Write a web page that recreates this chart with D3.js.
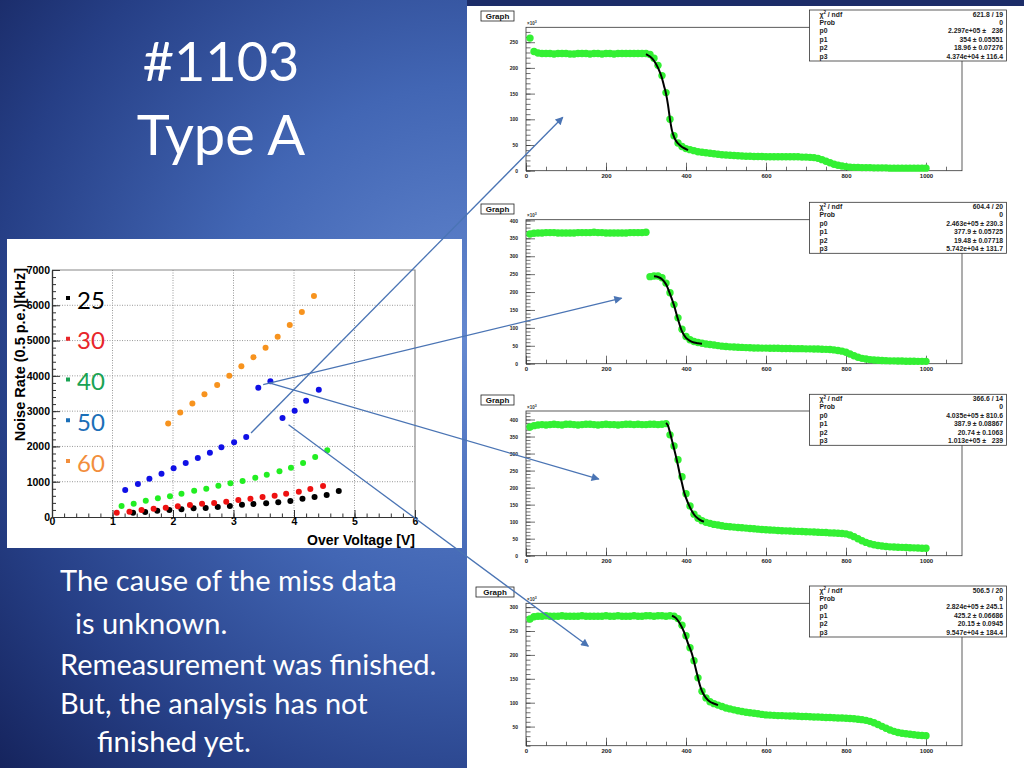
<!DOCTYPE html>
<html>
<head>
<meta charset="utf-8">
<title>#1103 Type A</title>
<script src="https://cdn.jsdelivr.net/npm/d3@7/dist/d3.min.js"></script>
<style>
  html, body { margin: 0; padding: 0; overflow: hidden; background: #1b2b66; }
  svg { display: block; }
  .root text { font-family: "Liberation Sans", Arial, sans-serif; font-weight: bold; }
</style>
</head>
<body>
<svg id="slide" width="1024" height="768"></svg>
<script>
// slide text
const titleLines = ["#1103", "Type A"];
const noteLines = [
    "The cause of the miss data",
    "is unknown.",
    "Remeasurement was finished.",
    "But, the analysis has not",
    "finished yet."
];

// left chart: noise rate vs over voltage
const seriesLabels = ["25", "30", "40", "50", "60"];
const voltTicks = [0, 1, 2, 3, 4, 5, 6];
const rateTicks = [0, 1000, 2000, 3000, 4000, 5000, 6000, 7000];

const vov25 = [1.34, 1.54, 1.74, 1.94, 2.14, 2.34, 2.54, 2.74, 2.94, 3.14, 3.33, 3.54, 3.74, 3.94, 4.14, 4.34, 4.54, 4.74];
const rate25 = [122, 142, 180, 198, 217, 246, 255, 283, 312, 350, 368, 387, 415, 453, 519, 566, 623, 736];
const vov30 = [1.07, 1.28, 1.48, 1.68, 1.88, 2.08, 2.28, 2.48, 2.68, 2.88, 3.08, 3.28, 3.48, 3.68, 3.87, 4.08, 4.27, 4.48];
const rate30 = [122, 150, 198, 236, 264, 302, 340, 377, 396, 434, 481, 519, 566, 604, 660, 717, 793, 878];
const vov40 = [1.15, 1.35, 1.55, 1.75, 1.95, 2.14, 2.35, 2.55, 2.75, 2.95, 3.15, 3.36, 3.55, 3.76, 3.95, 4.15, 4.35, 4.55];
const rate40 = [312, 377, 462, 530, 586, 660, 745, 802, 887, 955, 1020, 1113, 1200, 1295, 1397, 1530, 1700, 1890];
const vov50 = [1.21, 1.42, 1.61, 1.81, 2.01, 2.21, 2.41, 2.61, 2.80, 3.01, 3.21, 3.41, 3.61, 3.81, 4.01, 4.20, 4.41];
const rate50 = [765, 935, 1085, 1227, 1380, 1530, 1671, 1822, 1974, 2116, 2266, 3663, 3844, 2805, 3011, 3295, 3606];
const vov60 = [1.92, 2.12, 2.32, 2.52, 2.73, 2.93, 3.13, 3.33, 3.53, 3.73, 3.93, 4.13, 4.33];
const rate60 = [2650, 2960, 3220, 3480, 3740, 4000, 4270, 4530, 4800, 5110, 5440, 5810, 6260];

// right side: four threshold scans (x = 10..1000, step 10), y in 10^3
const scanX = d3.range(10, 1001, 10);
const scanTicks = [0, 200, 400, 600, 800, 1000];

const scan1 = [
    258, 232, 229, 228, 228, 228, 227, 228, 228, 228,
    227, 227, 228, 228, 228, 227, 228, 228, 227, 228,
    228, 227, 228, 228, 228, 228, 228, 228, 228, 228,
    226, 219, 205, 185, 152, 100, 68, 54, 47, 43,
    41, 39, 37, 36, 35, 34, 33, 32, 31, 30.5,
    30, 29.5, 29, 28.5, 28, 28, 27.5, 27.5, 27.5, 27,
    27, 27, 27, 27, 27, 27, 27, 27, 26.5, 26.5,
    26, 25.5, 24, 21.5, 18.5, 15.5, 12.5, 10.5, 9, 8,
    7, 6.5, 6.5, 6, 6, 6, 5.5, 5.5, 5.5, 5.5,
    5, 5, 5, 5, 5, 5, 5, 5, 5, 5
];
const scan2 = [
    362, 364, 365, 365, 366, 366, 366, 365, 365, 365,
    365, 365, 366, 366, 366, 366, 367, 366, 366, 365,
    365, 365, 365, 365, 365, 366, 366, 366, 366, 367,
    243, 245, 245, 240, 225, 198, 165, 128, 96, 76,
    67, 62, 59, 57, 55, 53.5, 52, 50.5, 49, 48,
    47, 46.5, 46, 45.5, 45, 44.5, 44, 44, 43.5, 43.5,
    43, 43, 43, 42.5, 42.5, 42.5, 42, 42, 42, 41.5,
    41.5, 41, 41, 40.5, 40, 39.5, 38.5, 37, 35, 32,
    27, 22, 18, 15, 13, 11.5, 10.5, 9.5, 9, 8.5,
    8, 8, 7.5, 7.5, 7, 7, 7, 6.5, 6.5, 6.5
];
const scan3 = [
    378, 382, 384, 385, 384, 385, 386, 385, 384, 386,
    386, 385, 384, 385, 386, 386, 385, 384, 385, 386,
    385, 385, 384, 385, 386, 386, 385, 386, 385, 385,
    386, 386, 385, 386, 388, 355, 322, 282, 232, 182,
    146, 122, 110, 103, 98, 95, 92, 90, 88, 86,
    85, 84, 83, 82, 81, 80, 79, 78, 77, 76,
    75.5, 75, 74, 73.5, 73, 72.5, 72, 71.5, 71, 70.5,
    70, 69.5, 69, 68.5, 68, 67, 66.5, 66, 65, 64,
    61, 56, 50, 44, 39, 35, 32, 30, 28.5, 27,
    26, 25.5, 25, 24.5, 24, 23.5, 23, 22.5, 22, 22
];
const scan4 = [
    275, 280, 281, 281, 282, 281, 281, 281, 282, 281,
    281, 281, 281, 282, 281, 281, 281, 281, 281, 282,
    281, 281, 282, 281, 281, 281, 282, 281, 281, 282,
    282, 281, 282, 282, 281, 282, 281, 276, 262, 240,
    215, 188, 152, 124, 110, 102, 98, 95, 92, 89,
    87, 85, 83, 81.5, 80, 79, 78, 77, 75.5, 74.5,
    74, 73.5, 73, 73, 72.5, 72, 72, 71.5, 71, 71,
    70.5, 70, 70, 69.5, 69, 69, 68.5, 68, 68, 67.5,
    67, 66.5, 65.5, 64.5, 63, 61, 58, 54.5, 50.5, 46.5,
    43, 40, 37.5, 36, 35, 34, 33, 32, 31.5, 31
];

// fit curves
const fit1X = [300, 310, 320, 330, 340, 345, 350, 355, 360, 365, 370, 375, 380, 390, 400, 405];
const fit1Y = [227, 222, 214, 200, 180, 165, 150, 128, 100, 78, 66, 58, 53, 46, 42, 40];
const fit2X = [320, 330, 340, 350, 360, 370, 380, 390, 400, 410, 420, 430, 440];
const fit2Y = [244, 242, 236, 222, 195, 163, 124, 90, 72, 64, 59, 57, 56];
const fit3X = [350, 355, 360, 365, 370, 375, 380, 385, 390, 395, 400, 410, 420, 430, 440, 445];
const fit3Y = [390, 382, 362, 338, 315, 291, 265, 237, 213, 188, 170, 142, 121, 109, 102, 100];
const fit4X = [365, 375, 385, 395, 405, 415, 420, 425, 430, 435, 440, 450, 460, 470, 480];
const fit4Y = [282, 277, 265, 248, 224, 202, 186, 169, 152, 136, 124, 110, 102, 98, 95];

const statLabels = ["χ2 / ndf", "Prob", "p0", "p1", "p2", "p3"];
const stats1 = ["621.8 / 19", "0", "2.297e+05 ±   236", "354 ± 0.05551", "18.96 ± 0.07276", "4.374e+04 ± 116.4"];
const stats2 = ["604.4 / 20", "0", "2.463e+05 ± 230.3", "377.9 ± 0.05725", "19.48 ± 0.07718", "5.742e+04 ± 131.7"];
const stats3 = ["366.6 / 14", "0", "4.035e+05 ± 810.6", "387.9 ± 0.08867", "20.74 ± 0.1063", "1.013e+05 ±   239"];
const stats4 = ["506.5 / 20", "0", "2.824e+05 ± 245.1", "425.2 ± 0.06686", "20.15 ± 0.0945", "9.547e+04 ± 184.4"];

const yTicks1 = [0, 50, 100, 150, 200, 250];
const yTicks2 = [0, 50, 100, 150, 200, 250, 300, 350, 400];
const yTicks4 = [50, 100, 150, 200, 250, 300];

// callout arrows: start in left-chart units, end in scan units of panel i
const arrowFrom = [[3.29, 2380], [3.49, 3750], [3.59, 3800], [3.91, 2615]];
const arrowTo = [[92, 104], [239, 183], [182, 225], [156, 218]];

const svg = d3.select("#slide");
const defs = svg.append("defs");

//background
const grad = defs.append("radialGradient")
    .attr("id", "bg")
    .attr("gradientUnits", "userSpaceOnUse")
    .attr("cx", 470).attr("cy", 340).attr("r", 640);
[[0, "#6488d0"], [0.4, "#4266b4"], [0.75, "#263f86"], [1, "#15235c"]].forEach(s => {
    grad.append("stop").attr("offset", s[0]).attr("stop-color", s[1]);
});
defs.append("marker")
    .attr("id", "ah")
    .attr("viewBox", "0 0 10 10")
    .attr("refX", 9).attr("refY", 5)
    .attr("markerWidth", 10).attr("markerHeight", 8)
    .attr("markerUnits", "userSpaceOnUse")
    .attr("orient", "auto")
    .append("path")
    .attr("d", "M0,0 L10,5 L0,10 z")
    .attr("fill", "#4a74b4");

svg.append("rect").attr("width", 1024).attr("height", 768).attr("fill", "url(#bg)");
svg.append("rect").attr("x", 467).attr("y", 0).attr("width", 557).attr("height", 6).attr("fill", "#1c2c68");
svg.append("rect").attr("x", 467).attr("y", 6).attr("width", 557).attr("height", 762).attr("fill", "#fff");

// title + notes
svg.append("g").selectAll("text")
    .data(titleLines)
    .join("text")
    .attr("x", 221)
    .attr("y", (d, i) => [81, 155][i])
    .attr("text-anchor", "middle")
    .style("font-family", "Lato, 'Open Sans', sans-serif")
    .style("font-size", (d, i) => ["54px", "56px"][i])
    .style("fill", "#fff")
    .text(d => d);

svg.append("g").selectAll("text")
    .data(noteLines)
    .join("text")
    .attr("x", (d, i) => [60, 75, 60, 60, 97][i])
    .attr("y", (d, i) => [591, 634, 675, 714, 752][i])
    .style("font-family", "Lato, 'Open Sans', sans-serif")
    .style("font-size", "29px")
    .style("fill", "#fff")
    .text(d => d);

//scan panels
const scanXDomain = [0, 1090];
const panels = [
    { data: scan1, fitX: fit1X, fitY: fit1Y, stats: stats1, yDomain: [0, 279], yTicks: yTicks1, top: 27.3, bottom: 170.7, boxTop: 10, tag: [481, 11, 33] },
    { data: scan2, fitX: fit2X, fitY: fit2Y, stats: stats2, yDomain: [0, 402], yTicks: yTicks2, top: 219.7, bottom: 363.7, boxTop: 202.3, tag: [481, 204, 33] },
    { data: scan3, fitX: fit3X, fitY: fit3Y, stats: stats3, yDomain: [0, 425], yTicks: yTicks2, top: 411, bottom: 555.7, boxTop: 394.3, tag: [481, 395, 33] },
    { data: scan4, fitX: fit4X, fitY: fit4Y, stats: stats4, yDomain: [10, 308], yTicks: yTicks4, top: 603.3, bottom: 745.7, boxTop: 586, tag: [476, 587, 38] }
];
const pLeft = 526, pRight = 962;
const panelScales = [];

panels.forEach(p => {
    const g = svg.append("g").attr("class", "root");
    const x = d3.scaleLinear().domain(scanXDomain).range([pLeft, pRight]);
    const y = d3.scaleLinear().domain(p.yDomain).range([p.bottom, p.top]);
    panelScales.push({ x, y });

    g.append("rect")
        .attr("x", pLeft).attr("y", p.top)
        .attr("width", pRight - pLeft).attr("height", p.bottom - p.top)
        .attr("fill", "none").attr("stroke", "#333").attr("stroke-width", 0.8);

    //x axis
    const xMinor = g.append("g").attr("transform", `translate(0,${p.bottom})`);
    d3.axisBottom(x).tickValues(d3.range(0, 1051, 50)).tickSize(-4).tickSizeOuter(0).tickFormat("")(xMinor);
    const xMajor = g.append("g").attr("transform", `translate(0,${p.bottom})`);
    d3.axisBottom(x).tickValues(scanTicks).tickSize(-8).tickSizeOuter(0).tickPadding(3).tickFormat(d3.format("d"))(xMajor);
    xMajor.selectAll("text").attr("font-size", 6).attr("font-family", null);

    //y axis
    const yMinor = g.append("g").attr("transform", `translate(${pLeft},0)`);
    d3.axisLeft(y).tickValues(d3.range(Math.ceil(p.yDomain[0] / 10) * 10, p.yDomain[1], 10)).tickSize(-4.5).tickSizeOuter(0).tickFormat("")(yMinor);
    const yMajor = g.append("g").attr("transform", `translate(${pLeft},0)`);
    d3.axisLeft(y).tickValues(p.yTicks).tickSize(-9).tickSizeOuter(0).tickPadding(8).tickFormat(d3.format("d"))(yMajor);
    yMajor.selectAll("text").attr("font-size", 5).attr("font-family", null);

    g.selectAll(".domain").remove();
    g.selectAll(".tick line").attr("stroke", "#333").attr("stroke-width", 0.7);
    g.selectAll(".tick text").attr("fill", "#222");

    g.append("text")
        .attr("x", pLeft + 1).attr("y", p.top - 2.5)
        .attr("font-size", 4.5).attr("fill", "#333")
        .html('<tspan>×10</tspan><tspan dy="-2" font-size="3.5">3</tspan>');

    //data markers
    g.append("g").selectAll("circle")
        .data(scanX.map((v, i) => [v, p.data[i]]))
        .join("circle")
        .attr("cx", d => x(d[0]))
        .attr("cy", d => y(d[1]))
        .attr("r", 3.7)
        .attr("fill", "#33f033");

    //fit
    const line = d3.line().x(d => x(d[0])).y(d => y(d[1])).curve(d3.curveMonotoneX);
    g.append("path")
        .attr("d", line(p.fitX.map((v, i) => [v, p.fitY[i]])))
        .attr("fill", "none").attr("stroke", "#000").attr("stroke-width", 2);

    //stats box
    const bx = 809.5, bw = 197, bh = 51;
    g.append("rect")
        .attr("x", bx).attr("y", p.boxTop).attr("width", bw).attr("height", bh)
        .attr("fill", "#fff").attr("stroke", "#333").attr("stroke-width", 0.8);
    const rows = g.append("g").selectAll("g")
        .data(statLabels)
        .join("g")
        .attr("transform", (d, i) => `translate(0,${p.boxTop + 6.6 + i * 8.4})`);
    rows.append("text")
        .attr("x", bx + 10)
        .attr("font-size", 6.8).attr("fill", "#222")
        .each(function (d) {
            if (d.startsWith("χ2")) {
                d3.select(this).html('<tspan>χ</tspan><tspan dy="-2.2" font-size="4.5">2</tspan><tspan dy="2.2"> / ndf</tspan>');
            } else {
                d3.select(this).text(d);
            }
        });
    rows.append("text")
        .attr("x", bx + bw - 3.5)
        .attr("text-anchor", "end")
        .attr("font-size", 6.8).attr("fill", "#222")
        .style("white-space", "pre")
        .text((d, i) => p.stats[i]);

    //"Graph" tag
    g.append("rect")
        .attr("x", p.tag[0]).attr("y", p.tag[1]).attr("width", p.tag[2]).attr("height", 10)
        .attr("fill", "#fff").attr("stroke", "#222").attr("stroke-width", 0.8);
    g.append("text")
        .attr("x", p.tag[0] + p.tag[2] / 2).attr("y", p.tag[1] + 7.8)
        .attr("text-anchor", "middle").attr("font-size", 8).attr("fill", "#111")
        .text("Graph");
});

// left chart
const lc = { left: 52, right: 415, top: 270, bottom: 517 };
const xL = d3.scaleLinear().domain([0, 6]).range([lc.left, lc.right]);
const yL = d3.scaleLinear().domain([0, 7000]).range([lc.bottom, lc.top]);
const chart = svg.append("g").attr("class", "root");

chart.append("rect").attr("x", 7).attr("y", 239).attr("width", 455).attr("height", 309).attr("fill", "#fff");

//grid
chart.append("g").selectAll("line")
    .data(voltTicks.slice(1, -1))
    .join("line")
    .attr("x1", d => xL(d)).attr("x2", d => xL(d))
    .attr("y1", lc.top).attr("y2", lc.bottom)
    .attr("stroke", "#999").attr("stroke-dasharray", "1,1.5");
chart.append("g").selectAll("line")
    .data(rateTicks.slice(1, -1))
    .join("line")
    .attr("x1", lc.left).attr("x2", lc.right)
    .attr("y1", d => yL(d)).attr("y2", d => yL(d))
    .attr("stroke", "#999").attr("stroke-dasharray", "1,1.5");

chart.append("path")
    .attr("d", `M${lc.left},${lc.top}H${lc.right}V${lc.bottom}`)
    .attr("fill", "none").attr("stroke", "#888").attr("stroke-width", 1.2);

const axX = chart.append("g").attr("transform", `translate(0,${lc.bottom})`);
d3.axisBottom(xL).tickValues(d3.range(0, 6.01, 0.2)).tickSize(-3.5).tickSizeOuter(0).tickFormat("")(axX);
const axX2 = chart.append("g").attr("transform", `translate(0,${lc.bottom})`);
d3.axisBottom(xL).tickValues(voltTicks).tickSize(-7).tickSizeOuter(0).tickPadding(1).tickFormat(d3.format("d"))(axX2);
const axY = chart.append("g").attr("transform", `translate(${lc.left},0)`);
d3.axisLeft(yL).tickValues(d3.range(0, 7001, 200)).tickSize(-4).tickSizeOuter(0).tickFormat("")(axY);
const axY2 = chart.append("g").attr("transform", `translate(${lc.left},0)`);
d3.axisLeft(yL).tickValues(rateTicks).tickSize(-8).tickSizeOuter(0).tickPadding(2).tickFormat(d3.format("d"))(axY2);
chart.selectAll(".domain").attr("stroke", "#333").attr("stroke-width", 1.2);
chart.selectAll(".tick line").attr("stroke", "#333");
chart.selectAll(".tick text").attr("font-size", 10.5).attr("font-family", null).attr("fill", "#000");

chart.append("text")
    .attr("transform", "translate(25,268) rotate(-90)")
    .attr("text-anchor", "end")
    .attr("font-size", 14.5).attr("fill", "#000")
    .text("Noise Rate (0.5 p.e.)[kHz]");
chart.append("text")
    .attr("x", lc.right).attr("y", 545)
    .attr("text-anchor", "end")
    .attr("font-size", 14).attr("fill", "#000")
    .text("Over Voltage [V]");

const series = [
    { vov: vov25, rate: rate25, dot: "#000000", key: "#000000" },
    { vov: vov30, rate: rate30, dot: "#ee1111", key: "#e8262a" },
    { vov: vov40, rate: rate40, dot: "#22ee22", key: "#1aa354" },
    { vov: vov50, rate: rate50, dot: "#1010e6", key: "#1b6fb8" },
    { vov: vov60, rate: rate60, dot: "#f7931e", key: "#f28e3c" }
];

series.forEach(s => {
    chart.append("g").selectAll("circle")
        .data(s.vov.map((v, i) => [v, s.rate[i]]))
        .join("circle")
        .attr("cx", d => xL(d[0]))
        .attr("cy", d => yL(d[1]))
        .attr("r", 3)
        .attr("fill", s.dot);
});

//legend
const legend = chart.append("g").selectAll("g")
    .data(seriesLabels)
    .join("g")
    .attr("transform", (d, i) => `translate(66,${308.5 + i * 40.75})`);
legend.append("rect")
    .attr("x", 0).attr("y", -12.5).attr("width", 4).attr("height", 4)
    .attr("fill", (d, i) => series[i].key);
legend.append("text")
    .attr("x", 11)
    .style("font-family", "Lato, 'Open Sans', sans-serif")
    .style("font-weight", "normal")
    .style("font-size", "24px")
    .attr("fill", (d, i) => series[i].key)
    .text(d => d);

//callout arrows
svg.append("g").selectAll("line")
    .data(arrowFrom.map((a, i) => [a, arrowTo[i], i]))
    .join("line")
    .attr("x1", d => xL(d[0][0]))
    .attr("y1", d => yL(d[0][1]))
    .attr("x2", d => panelScales[d[2]].x(d[1][0]))
    .attr("y2", d => panelScales[d[2]].y(d[1][1]))
    .attr("stroke", "#4a74b4")
    .attr("stroke-width", 1.3)
    .attr("marker-end", "url(#ah)");
</script>
</body>
</html>
